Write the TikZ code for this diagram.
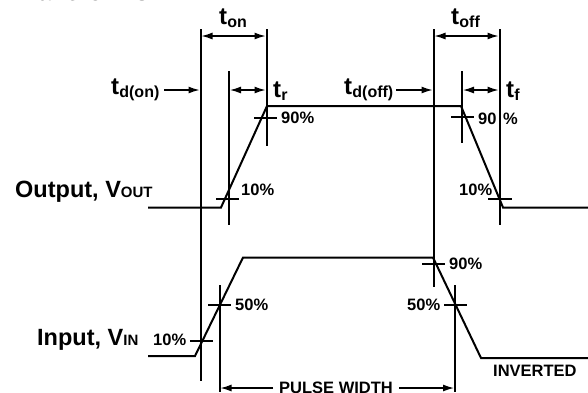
\documentclass[tikz,border=0pt]{standalone}
\usepackage{fontspec}
\setmainfont{Liberation Sans}[BoldFont={Liberation Sans Bold}]
\usetikzlibrary{arrows.meta}
\tikzset{
 wave/.style={line width=2pt,line join=miter},
 guide/.style={line width=2pt},
 tick/.style={line width=2pt},
 dim/.style={line width=1.3pt,{Latex[length=11pt,width=7pt]}-{Latex[length=11pt,width=7pt]}},
 pointer/.style={line width=1.3pt,-{Latex[length=11pt,width=7pt]}},
 tim/.style={font=\bfseries\fontsize{24}{24}\selectfont,inner sep=0pt},
 sig/.style={font=\bfseries\fontsize{23.5}{24}\selectfont,inner sep=0pt},
 pct/.style={font=\bfseries\fontsize{16.5}{17}\selectfont,inner sep=0pt},
 caplabel/.style={font=\bfseries\fontsize{16.5}{17}\selectfont,inner sep=0pt},
}
\newcommand{\timesub}[1]{t\kern0.2pt{\fontsize{16}{16}\selectfont\raisebox{-3.5pt}{#1}}}
\newcommand{\smallcp}[1]{{\fontsize{15}{15}\selectfont #1}}
\begin{document}
\begin{tikzpicture}[x=1pt,y=-1pt]
\useasboundingbox (0,0) rectangle (588,392);
\node[anchor=base west,inner sep=0pt,font=\bfseries\fontsize{25}{25}\selectfont] (title) at (15,0) {Waveforms};
% guides
\coordinate (at) at (200.7,29); \coordinate (ab) at (200.7,381);
\coordinate (bt) at (266.7,29); \coordinate (bb) at (266.7,146);
\coordinate (ct) at (229.4,71); \coordinate (cb) at (229.4,225);
\coordinate (dt) at (433.7,29); \coordinate (db) at (433.7,287);
\coordinate (et) at (499.7,29); \coordinate (eb) at (499.7,225);
\coordinate (ft) at (462.4,71); \coordinate (fb) at (462.4,143);
\coordinate (gt) at (219.8,285); \coordinate (gb) at (219.8,392);
\coordinate (ht) at (455.4,285); \coordinate (hb) at (455.4,392);
\foreach \p/\q in {at/ab,bt/bb,ct/cb,dt/db,et/eb,ft/fb,gt/gb,ht/hb}
  \draw[guide] (\p) -- (\q);
% waves
\draw[wave] (148,207.5) -- (221,207.5) -- (267,106) -- (461,106) -- (503,207.5) -- (588,207.5);
\draw[wave] (148,356) -- (195,356) -- (243,257.5) -- (433,257.5) -- (481,358) -- (588,358);
% ticks
\foreach \a/\b/\y in {254/277/118.3,216/239/198.7,451/474/116.8,488/512/199.3,190/213/341.3,208/231/305.3,422/445/264.3,444/467/305.3}
  \draw[tick] (\a,\y) -- (\b,\y);
% dims
\draw[dim] (201.5,36) -- (265.5,36);
\draw[dim] (434.5,36) -- (498.5,36);
\draw[dim] (230,90) -- (265.5,90);
\draw[dim] (463,90) -- (498.5,90);
\coordinate (p1) at (164,90); \coordinate (p1e) at (199.5,90);
\coordinate (p2) at (396,90); \coordinate (p2e) at (432.5,90);
\coordinate (p3) at (273,388); \coordinate (p3e) at (220.5,388);
\coordinate (p4) at (399,388); \coordinate (p4e) at (454,388);
\draw[pointer] (p1) -- (p1e);
\draw[pointer] (p2) -- (p2e);
\draw[pointer] (p3) -- (p3e);
\draw[pointer] (p4) -- (p4e);
% labels
\node[tim,anchor=base west] (ton) at (219,24) {\timesub{on}};
\node[tim,anchor=base west] (toff) at (451,24) {\timesub{off}};
\node[tim,anchor=base west] (tdon) at (111,94) {\timesub{d(on)}};
\node[tim,anchor=base west] (tdoff) at (344,94) {\timesub{d(off)}};
\node[tim,anchor=base west] (tr) at (273,97) {\timesub{r}};
\node[tim,anchor=base west] (tf) at (506,97) {\timesub{f}};
\node[sig,anchor=base west] (out) at (15,197) {Output, V\smallcp{OUT}};
\node[sig,anchor=base west] (in) at (37,345) {Input, V\smallcp{IN}};
\node[pct,anchor=base west] (p90a) at (281,123) {90\%};
\node[pct,anchor=base west] (p10a) at (241,195) {10\%};
\node[pct,anchor=base west] (p90b) at (478,124) {90};
\node[pct,anchor=base west] (p90c) at (503,124) {\%};
\node[pct,anchor=base west] (p10b) at (459,195) {10\%};
\node[pct,anchor=base west] (p10c) at (153,345) {10\%};
\node[pct,anchor=base west] (p50a) at (235,310) {50\%};
\node[pct,anchor=base west] (p90d) at (449,269) {90\%};
\node[pct,anchor=base west] (p50b) at (407,310) {50\%};
\node[caplabel,anchor=base west] (inv) at (493,376.5) {INVERTED};
\node[caplabel,anchor=base] (pw) at (336,393.5) {PULSE WIDTH};
\end{tikzpicture}
\end{document}
